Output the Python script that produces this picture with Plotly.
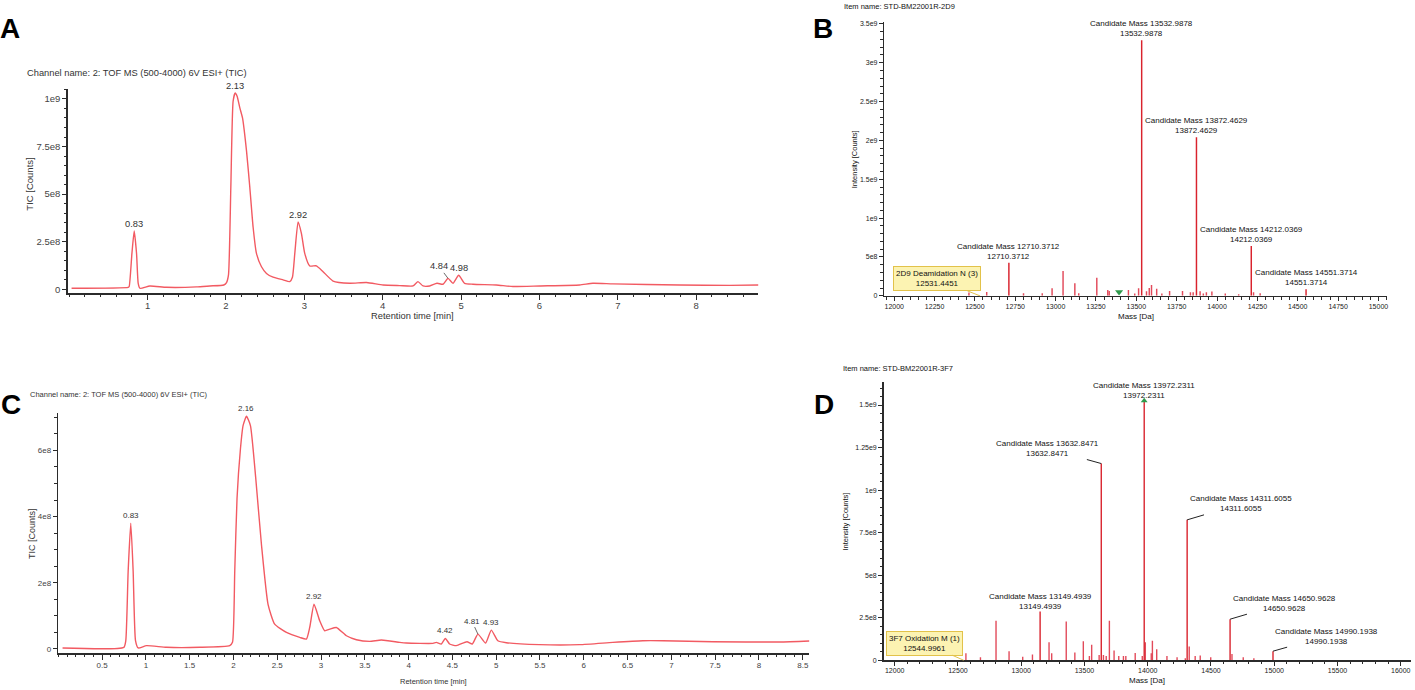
import plotly.graph_objects as go

W, H = 1415, 690


def px(x):
    return x / W


def py(y):
    return 1 - y / H


FONT = "Liberation Sans, Arial, sans-serif"
RED_LINE = "#f25a62"
STICK = "#d9232d"
STICK_MINOR = "#e24a5a"
AXIS = "#2b2b2b"
TXT = "#333333"

# ---------------- Panel A : TIC chromatogram ----------------
a_time = [0.03, 0.753, 0.765, 0.80, 0.829, 0.859, 0.88, 0.902, 1.029, 1.242, 1.624, 1.794, 1.972,
          2.007, 2.032, 2.062, 2.091, 2.117, 2.142, 2.177, 2.211, 2.262, 2.304, 2.346, 2.389, 2.453,
          2.517, 2.601, 2.729, 2.814, 2.848, 2.878, 2.92, 2.963, 3.005, 3.069, 3.154, 3.239, 3.366,
          3.579, 3.792, 4.004, 4.216, 4.386, 4.45, 4.514, 4.599, 4.692, 4.769, 4.833, 4.896, 4.969,
          5.045, 5.151, 5.449, 5.661, 6.002, 6.512, 6.681, 6.936, 7.787, 8.425, 8.794]
a_tic = [5e6, 10e6, 14e6, 188e6, 306e6, 188e6, 31e6, 5e6, 17e6, 10e6, 12e6, 17e6, 22e6,
         35e6, 75e6, 536e6, 988e6, 1031e6, 1014e6, 953e6, 900e6, 727e6, 536e6, 327e6, 188e6, 118e6,
         83e6, 63e6, 49e6, 40e6, 63e6, 188e6, 353e6, 292e6, 188e6, 122e6, 123e6, 92e6, 43e6,
         31e6, 35e6, 22e6, 19e6, 17e6, 40e6, 17e6, 17e6, 31e6, 26e6, 57e6, 31e6, 73e6,
         31e6, 26e6, 22e6, 14e6, 17e6, 22e6, 31e6, 28e6, 22e6, 20e6, 22e6]
a_peak_labels = ["0.83", "2.13", "2.92", "4.84", "4.98"]
a_xticks = [1, 2, 3, 4, 5, 6, 7, 8]
a_yticks = [0, 2.5e8, 5e8, 7.5e8, 1e9]
a_yticktext = ["0", "2.5e8", "5e8", "7.5e8", "1e9"]

# ---------------- Panel B : deconvoluted spectrum 2D9 ----------------
b_cand_mass = [12710.3712, 13532.9878, 13872.4629, 14212.0369, 14551.3714]
b_cand_int = [0.425e9, 3.29e9, 2.04e9, 0.64e9, 0.085e9]
b_minor_mass = [12463, 12573, 12801, 12917, 12978, 13046, 13119, 13143, 13255, 13323, 13332,
                13451, 13490, 13514, 13563, 13580, 13594, 13626, 13658, 13706, 13786, 13835,
                13852, 13895, 13915, 13934, 13968, 14051, 14134, 14226, 14267]
b_minor_int = [42e6, 50e6, 34e6, 34e6, 98e6, 320e6, 162e6, 34e6, 234e6, 77e6, 64e6,
               77e6, 30e6, 98e6, 60e6, 100e6, 140e6, 90e6, 30e6, 64e6, 64e6, 45e6,
               45e6, 60e6, 30e6, 45e6, 55e6, 30e6, 20e6, 45e6, 35e6]
b_marker_mass = [13393]
b_marker_int = [50e6]
b_mod_label = "2D9 Deamidation N (3)"
b_mod_mass = 12531.4451
b_xticks = [12000, 12250, 12500, 12750, 13000, 13250, 13500, 13750, 14000, 14250, 14500, 14750, 15000]
b_yticks = [0, 5e8, 1e9, 1.5e9, 2e9, 2.5e9, 3e9, 3.5e9]
b_yticktext = ["0", "5e8", "1e9", "1.5e9", "2e9", "2.5e9", "3e9", "3.5e9"]

# ---------------- Panel C : TIC chromatogram ----------------
c_time = [0.049, 0.749, 0.771, 0.798, 0.828, 0.855, 0.882, 0.912, 1.007, 1.236, 1.616, 1.958,
          1.989, 2.015, 2.041, 2.080, 2.110, 2.149, 2.194, 2.255, 2.320, 2.395, 2.471, 2.605,
          2.757, 2.833, 2.871, 2.920, 2.985, 3.042, 3.099, 3.175, 3.290, 3.404, 3.555, 3.689,
          3.898, 3.974, 4.278, 4.316, 4.373, 4.419, 4.468, 4.545, 4.666, 4.727, 4.791, 4.879,
          4.944, 5.019, 5.115, 5.495, 5.952, 6.332, 6.674, 6.902, 7.473, 8.234, 8.576]
c_tic = [3e6, 5e6, 25e6, 235e6, 380e6, 235e6, 25e6, 3e6, 10e6, 5e6, 5e6, 10e6,
         20e6, 235e6, 455e6, 605e6, 675e6, 703e6, 675e6, 515e6, 315e6, 135e6, 75e6, 50e6,
         35e6, 30e6, 65e6, 135e6, 85e6, 55e6, 60e6, 65e6, 40e6, 28e6, 23e6, 27e6,
         20e6, 18e6, 17e6, 20e6, 15e6, 32e6, 15e6, 10e6, 22e6, 15e6, 45e6, 18e6,
         57e6, 25e6, 19e6, 13e6, 13e6, 20e6, 25e6, 25e6, 22e6, 21e6, 24e6]
c_peak_labels = ["0.83", "2.16", "2.92", "4.42", "4.81", "4.93"]
c_xticks = [0.5, 1, 1.5, 2, 2.5, 3, 3.5, 4, 4.5, 5, 5.5, 6, 6.5, 7, 7.5, 8, 8.5]
c_yticks = [0, 2e8, 4e8, 6e8]
c_yticktext = ["0", "2e8", "4e8", "6e8"]

# ---------------- Panel D : deconvoluted spectrum 3F7 ----------------
d_cand_mass = [13149.4939, 13632.8471, 13972.2311, 14311.6055, 14650.9628, 14990.1938]
d_cand_int = [0.286e9, 1.156e9, 1.525e9, 0.825e9, 0.241e9, 0.053e9]
d_minor_mass = [12563, 12678, 12801, 12904, 13012, 13089, 13220, 13241, 13356, 13424, 13491,
                13539, 13557, 13616, 13650, 13672, 13697, 13734, 13771, 13808, 13827, 13901,
                13957, 13981, 14028, 14037, 14071, 14152, 14232, 14297, 14328, 14375, 14415,
                14498, 14666, 14755, 14839]
d_minor_int = [41e6, 18e6, 232e6, 53e6, 20e6, 33e6, 105e6, 41e6, 228e6, 45e6, 111e6,
               25e6, 91e6, 30e6, 30e6, 25e6, 232e6, 57e6, 25e6, 25e6, 25e6, 43e6,
               25e6, 105e6, 41e6, 115e6, 64e6, 25e6, 18e6, 12e6, 80e6, 25e6, 28e6,
               18e6, 37e6, 18e6, 12e6]
d_mod_label = "3F7 Oxidation M (1)"
d_mod_mass = 12544.9961
d_xticks = [12000, 12500, 13000, 13500, 14000, 14500, 15000, 15500, 16000]
d_yticks = [0, 2.5e8, 5e8, 7.5e8, 1e9, 1.25e9, 1.5e9]
d_yticktext = ["0", "2.5e8", "5e8", "7.5e8", "1e9", "1.25e9", "1.5e9"]


def peak_height(times, vals, label):
    t0 = float(label)
    cands = [(v, t) for t, v in zip(times, vals) if abs(t - t0) < 0.06]
    v, t = max(cands)
    return t, v


fig = go.Figure()

fig.add_trace(go.Scatter(x=a_time, y=a_tic, mode="lines", xaxis="x", yaxis="y",
                         line=dict(color=RED_LINE, width=1.4, shape="spline", smoothing=0.5),
                         hoverinfo="skip"))
fig.add_trace(go.Bar(x=b_minor_mass, y=b_minor_int, width=9, xaxis="x2", yaxis="y2",
                     marker=dict(color=STICK_MINOR, line_width=0)))
fig.add_trace(go.Bar(x=b_cand_mass, y=b_cand_int, width=9, xaxis="x2", yaxis="y2",
                     marker=dict(color=STICK, line_width=0)))
fig.add_trace(go.Scatter(x=b_marker_mass, y=b_marker_int, mode="markers", xaxis="x2", yaxis="y2",
                         marker=dict(symbol="triangle-down", size=7, color="#2f9a4c")))
fig.add_trace(go.Scatter(x=c_time, y=c_tic, mode="lines", xaxis="x3", yaxis="y3",
                         line=dict(color=RED_LINE, width=1.4, shape="spline", smoothing=0.5),
                         hoverinfo="skip"))
fig.add_trace(go.Bar(x=d_minor_mass, y=d_minor_int, width=11, xaxis="x4", yaxis="y4",
                     marker=dict(color=STICK_MINOR, line_width=0)))
fig.add_trace(go.Bar(x=d_cand_mass, y=d_cand_int, width=11, xaxis="x4", yaxis="y4",
                     marker=dict(color=STICK, line_width=0)))
top_i = d_cand_int.index(max(d_cand_int))
fig.add_trace(go.Scatter(x=[d_cand_mass[top_i]], y=[d_cand_int[top_i]], mode="markers",
                         xaxis="x4", yaxis="y4",
                         marker=dict(symbol="triangle-up", size=6, color="#2f9a4c")))


def axis(domain, rng, anchor, tickvals, ticktext, minor_dtick, font, ticklen=4, lw=1.5, standoff=0):
    return dict(domain=domain, range=rng, anchor=anchor, tickmode="array",
                tickvals=tickvals, ticktext=ticktext, ticks="outside", ticklen=ticklen,
                tickwidth=1, tickcolor=AXIS, ticklabelstandoff=standoff,
                minor=dict(ticks="outside", ticklen=2.5, tickwidth=1, tickcolor=AXIS,
                           tick0=0, dtick=minor_dtick, showgrid=False),
                showline=True, linecolor=AXIS, linewidth=lw, showgrid=False, zeroline=False,
                tickfont=font, fixedrange=True)


fA = dict(family=FONT, size=9.5, color="#444")
fB = dict(family=FONT, size=7, color="#222")
fC = dict(family=FONT, size=8, color="#444")

layout = dict(
    width=W, height=H, margin=dict(l=0, r=0, t=0, b=0),
    paper_bgcolor="white", plot_bgcolor="white", showlegend=False, barmode="overlay",
    hovermode=False,
    xaxis=axis([px(67.7), px(759)], [-0.02, 8.794], "y", a_xticks, [str(v) for v in a_xticks], 0.2, fA, 5, standoff=-2),
    yaxis=axis([py(293.3), py(87.7)], [-2.09e7, 1.052e9], "x", a_yticks, a_yticktext, 5e7, fA, 4),
    xaxis2=axis([px(885), px(1388)], [11939, 15053], "y2", b_xticks, [str(v) for v in b_xticks], 50, fB, 4, standoff=-1),
    yaxis2=axis([py(296), py(20)], [0, 3.5255e9], "x2", b_yticks, b_yticktext, 1e8, fB, 4),
    xaxis3=axis([px(58.3), px(810)], [0, 8.576], "y3", c_xticks, [f"{v:g}" for v in c_xticks], 0.1, fC, 5, standoff=-1),
    yaxis3=axis([py(656), py(414)], [-1.29e7, 7.13e8], "x3", c_yticks, c_yticktext, 5e7, fC, 4),
    xaxis4=axis([px(884.3), px(1411.5)], [11913, 16077], "y4", d_xticks, [str(v) for v in d_xticks], 100, fB, 4, standoff=-1),
    yaxis4=axis([py(663), py(383)], [0, 1.634e9], "x4", d_yticks, d_yticktext, 5e7, fB, 4),
)
fig.update_layout(**layout)

ann = []


def paper_text(x, y, text, size, color=TXT, xanchor="center", yanchor="middle", angle=0, bold=False):
    ann.append(dict(x=px(x), y=py(y), xref="paper", yref="paper",
                    text=f"<b>{text}</b>" if bold else text,
                    showarrow=False, xanchor=xanchor, yanchor=yanchor, textangle=angle,
                    font=dict(family=FONT, size=size, color=color)))


# panel letters
paper_text(10, 27, "A", 28, bold=True, color="#000")
paper_text(824, 27, "B", 28, bold=True, color="#000")
paper_text(11.5, 405, "C", 28, bold=True, color="#000")
paper_text(825, 405, "D", 28, bold=True, color="#000")

# headers
paper_text(25, 71.7, "Channel name: 2: TOF MS (500-4000) 6V ESI+ (TIC)", 9.3, xanchor="left")
paper_text(28, 395, "Channel name: 2: TOF MS (500-4000) 6V ESI+ (TIC)", 7.5, xanchor="left")
paper_text(843, 4.5, "Item name: STD-BM22001R-2D9", 7.5, xanchor="left", color="#111")
paper_text(842, 369, "Item name: STD-BM22001R-3F7", 7.5, xanchor="left", color="#111")

# axis titles
paper_text(30, 183, "TIC [Counts]", 9.5, angle=-90)
paper_text(413, 316, "Retention time [min]", 9.3)
paper_text(32, 535, "TIC [Counts]", 9, angle=-90)
paper_text(434, 684, "Retention time [min]", 7.5)
paper_text(855, 158, "Intensity [Counts]", 7.5, angle=-90, color="#111")
paper_text(1137, 317, "Mass [Da]", 8, color="#111")
paper_text(846, 523, "Intensity [Counts]", 7.5, angle=-90, color="#111")
paper_text(1148, 683, "Mass [Da]", 8, color="#111")

# chromatogram peak labels
a_leader = {"4.84": (-9, -12)}
for lbl in a_peak_labels:
    t, v = peak_height(a_time, a_tic, lbl)
    base = dict(x=t, y=v, xref="x", yref="y", text=lbl, font=dict(family=FONT, size=9.3, color=TXT))
    if lbl in a_leader:
        base.update(showarrow=True, arrowhead=0, arrowwidth=0.8, arrowcolor="#444",
                    ax=a_leader[lbl][0], ay=a_leader[lbl][1])
    else:
        base.update(showarrow=False, yanchor="bottom", yshift=0)
    ann.append(base)

c_leader = {"4.81": (-6, -13)}
for lbl in c_peak_labels:
    t, v = peak_height(c_time, c_tic, lbl)
    base = dict(x=t, y=v, xref="x3", yref="y3", text=lbl, font=dict(family=FONT, size=8, color=TXT))
    if lbl in c_leader:
        base.update(showarrow=True, arrowhead=0, arrowwidth=0.8, arrowcolor="#444",
                    ax=c_leader[lbl][0], ay=c_leader[lbl][1])
    else:
        base.update(showarrow=False, yanchor="bottom", yshift=1)
    ann.append(base)

# candidate mass labels
fS = dict(family=FONT, size=8, color="#111")
for m, v in zip(b_cand_mass, b_cand_int):
    ann.append(dict(x=m, y=v, xref="x2", yref="y2", text=f"Candidate Mass {m:.4f}<br>{m:.4f}",
                    showarrow=False, yanchor="bottom", yshift=0, font=fS))

d_offsets = {13632.8471: (-54, -15), 14311.6055: (54, -16), 14650.9628: (54, -16), 14990.1938: (53, -15)}
for m, v in zip(d_cand_mass, d_cand_int):
    base = dict(x=m, y=v, xref="x4", yref="y4", text=f"Candidate Mass {m:.4f}<br>{m:.4f}", font=fS)
    if m in d_offsets:
        base.update(showarrow=True, arrowhead=0, arrowwidth=1, arrowcolor="#222",
                    ax=d_offsets[m][0], ay=d_offsets[m][1])
    else:
        base.update(showarrow=False, yanchor="bottom", yshift=-1)
    ann.append(base)

# modification boxes
for m, lbl, xr, yr, off in [(b_mod_mass, b_mod_label, "x2", "y2", (-43, -17)),
                            (d_mod_mass, d_mod_label, "x4", "y4", (-39, -17))]:
    ann.append(dict(x=m, y=0, xref=xr, yref=yr, text=f"{lbl}<br>{m:.4f}",
                    showarrow=True, arrowhead=0, arrowwidth=1, arrowcolor="#e2c24a",
                    ax=off[0], ay=off[1], bgcolor="#fcf3b2", bordercolor="#e2c24a",
                    borderwidth=1, borderpad=2, font=dict(family=FONT, size=8, color="#111")))

fig.update_layout(annotations=ann)
fig.write_html("out.html", config={"displayModeBar": False, "staticPlot": True},
               post_script="document.body.style.margin='0';")
